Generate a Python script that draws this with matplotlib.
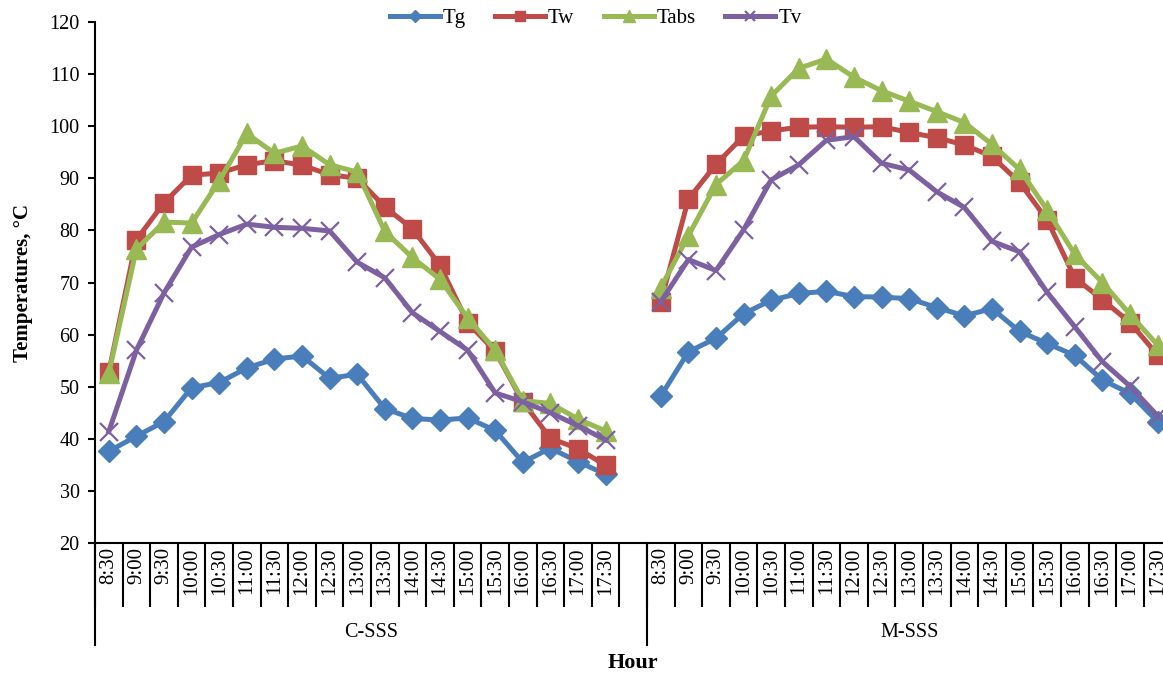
import numpy as np
import matplotlib
matplotlib.use('Agg')
import matplotlib.pyplot as plt

plt.rcParams['font.family'] = ['Liberation Serif', 'DejaVu Serif']

hours = ['8:30', '9:00', '9:30', '10:00', '10:30', '11:00', '11:30', '12:00', '12:30', '13:00',
         '13:30', '14:00', '14:30', '15:00', '15:30', '16:00', '16:30', '17:00', '17:30']
groups = ['C-SSS', 'M-SSS']

# C-SSS readings
tg_c = [37.6, 40.5, 43.3, 49.8, 50.8, 53.6, 55.3, 55.9, 51.6, 52.4, 45.8, 43.9, 43.6, 44.0, 41.6, 35.5, 38.2, 35.6, 33.2]
tw_c = [52.8, 78.2, 85.3, 90.6, 91.0, 92.6, 93.4, 92.5, 90.7, 90.0, 84.5, 80.3, 73.3, 62.3, 56.8, 47.1, 40.1, 38.1, 34.9]
tabs_c = [52.6, 76.4, 81.6, 81.4, 89.5, 98.6, 94.8, 96.2, 92.6, 91.2, 79.8, 74.8, 70.6, 63.2, 57.0, 47.3, 46.8, 43.8, 41.5]
tv_c = [41.4, 57.0, 68.0, 76.8, 79.2, 81.2, 80.6, 80.4, 79.9, 73.9, 70.9, 64.2, 60.6, 57.0, 48.8, 47.1, 45.0, 42.5, 39.8]

# M-SSS readings
tg_m = [48.2, 56.7, 59.3, 64.0, 66.6, 67.9, 68.3, 67.3, 67.2, 66.9, 65.2, 63.6, 65.0, 60.6, 58.3, 56.0, 51.3, 48.7, 43.3]
tw_m = [66.3, 86.0, 92.7, 98.1, 99.1, 99.8, 99.9, 99.8, 99.9, 98.8, 97.8, 96.4, 94.2, 89.2, 82.0, 70.9, 66.7, 62.3, 56.1]
tabs_m = [69.0, 79.0, 88.8, 93.4, 105.8, 111.1, 112.9, 109.4, 106.8, 104.8, 102.8, 100.7, 96.5, 91.7, 83.9, 75.4, 70.0, 63.9, 58.0]
tv_m = [66.3, 74.4, 72.3, 80.1, 89.7, 92.6, 97.3, 98.0, 92.9, 91.6, 87.4, 84.4, 77.9, 75.9, 68.1, 61.5, 54.8, 50.1, 44.4]

n = len(hours)
x_c = np.arange(n) + 0.5
x_m = np.arange(n) + n + 1.5
n_slots = 2 * n + 1

fig = plt.figure(figsize=(11.63, 6.73), dpi=100)
ax = fig.add_axes([95 / 1163, 130 / 673, (n_slots * 27.6) / 1163, 521 / 673])

series = [
    ('Tg', tg_c, tg_m, '#4A7EBB', 'D', 11, 1),
    ('Tw', tw_c, tw_m, '#BE4B48', 's', 13, 1),
    ('Tabs', tabs_c, tabs_m, '#98B954', '^', 15, 1),
    ('Tv', tv_c, tv_m, '#7D60A0', 'x', 13, 1.6),
]
for name, yc, ym, col, mk, ms, mew in series:
    kw = dict(color=col, lw=3.6, marker=mk, markersize=ms, markeredgewidth=mew,
              markerfacecolor=col, markeredgecolor=col)
    ax.plot(x_c, yc, label=name, **kw)
    ax.plot(x_m, ym, **kw)

ax.set_ylim(20, 120)
ax.set_yticks(np.arange(20, 121, 10))
ax.set_xlim(0, n_slots)

# category boundaries as major ticks, labels on minor ticks
ax.set_xticks(np.arange(0, n_slots + 1))
ax.set_xticklabels([])
ax.set_xticks(np.concatenate([x_c, x_m]), minor=True)
ax.set_xticklabels(hours + hours, minor=True, rotation=90, fontsize=15)
ax.tick_params(axis='x', which='major', length=46, width=1.5, direction='out')
ax.tick_params(axis='x', which='minor', length=0, pad=3)
ax.tick_params(axis='y', length=5, width=1.5, labelsize=14.5, pad=6)

for s in ['top', 'right']:
    ax.spines[s].set_visible(False)
for s in ['left', 'bottom']:
    ax.spines[s].set_linewidth(1.5)

# group separators and group names
trans = ax.get_xaxis_transform()
for b in [0, n + 1, n_slots]:
    ax.plot([b, b], [0, -0.196], color='black', lw=1.5, transform=trans, clip_on=False)
ax.text((n + 1) / 2, -0.171, groups[0], transform=trans, ha='center', va='center', fontsize=14.5)
ax.text((n + 1) + n / 2, -0.171, groups[1], transform=trans, ha='center', va='center', fontsize=14.5)

fig.text(633 / 1163, 1 - 663 / 673, 'Hour', ha='center', va='center', fontsize=16, fontweight='bold')
ax.set_ylabel('Temperatures, °C', fontsize=15, fontweight='bold', labelpad=12)

fig.legend(loc='center', bbox_to_anchor=(0.512, 0.973), ncol=4, frameon=False,
           fontsize=15, handlelength=2.4, markerscale=0.55, columnspacing=1.4, handletextpad=0.15)

fig.savefig('out.png', dpi=100)
